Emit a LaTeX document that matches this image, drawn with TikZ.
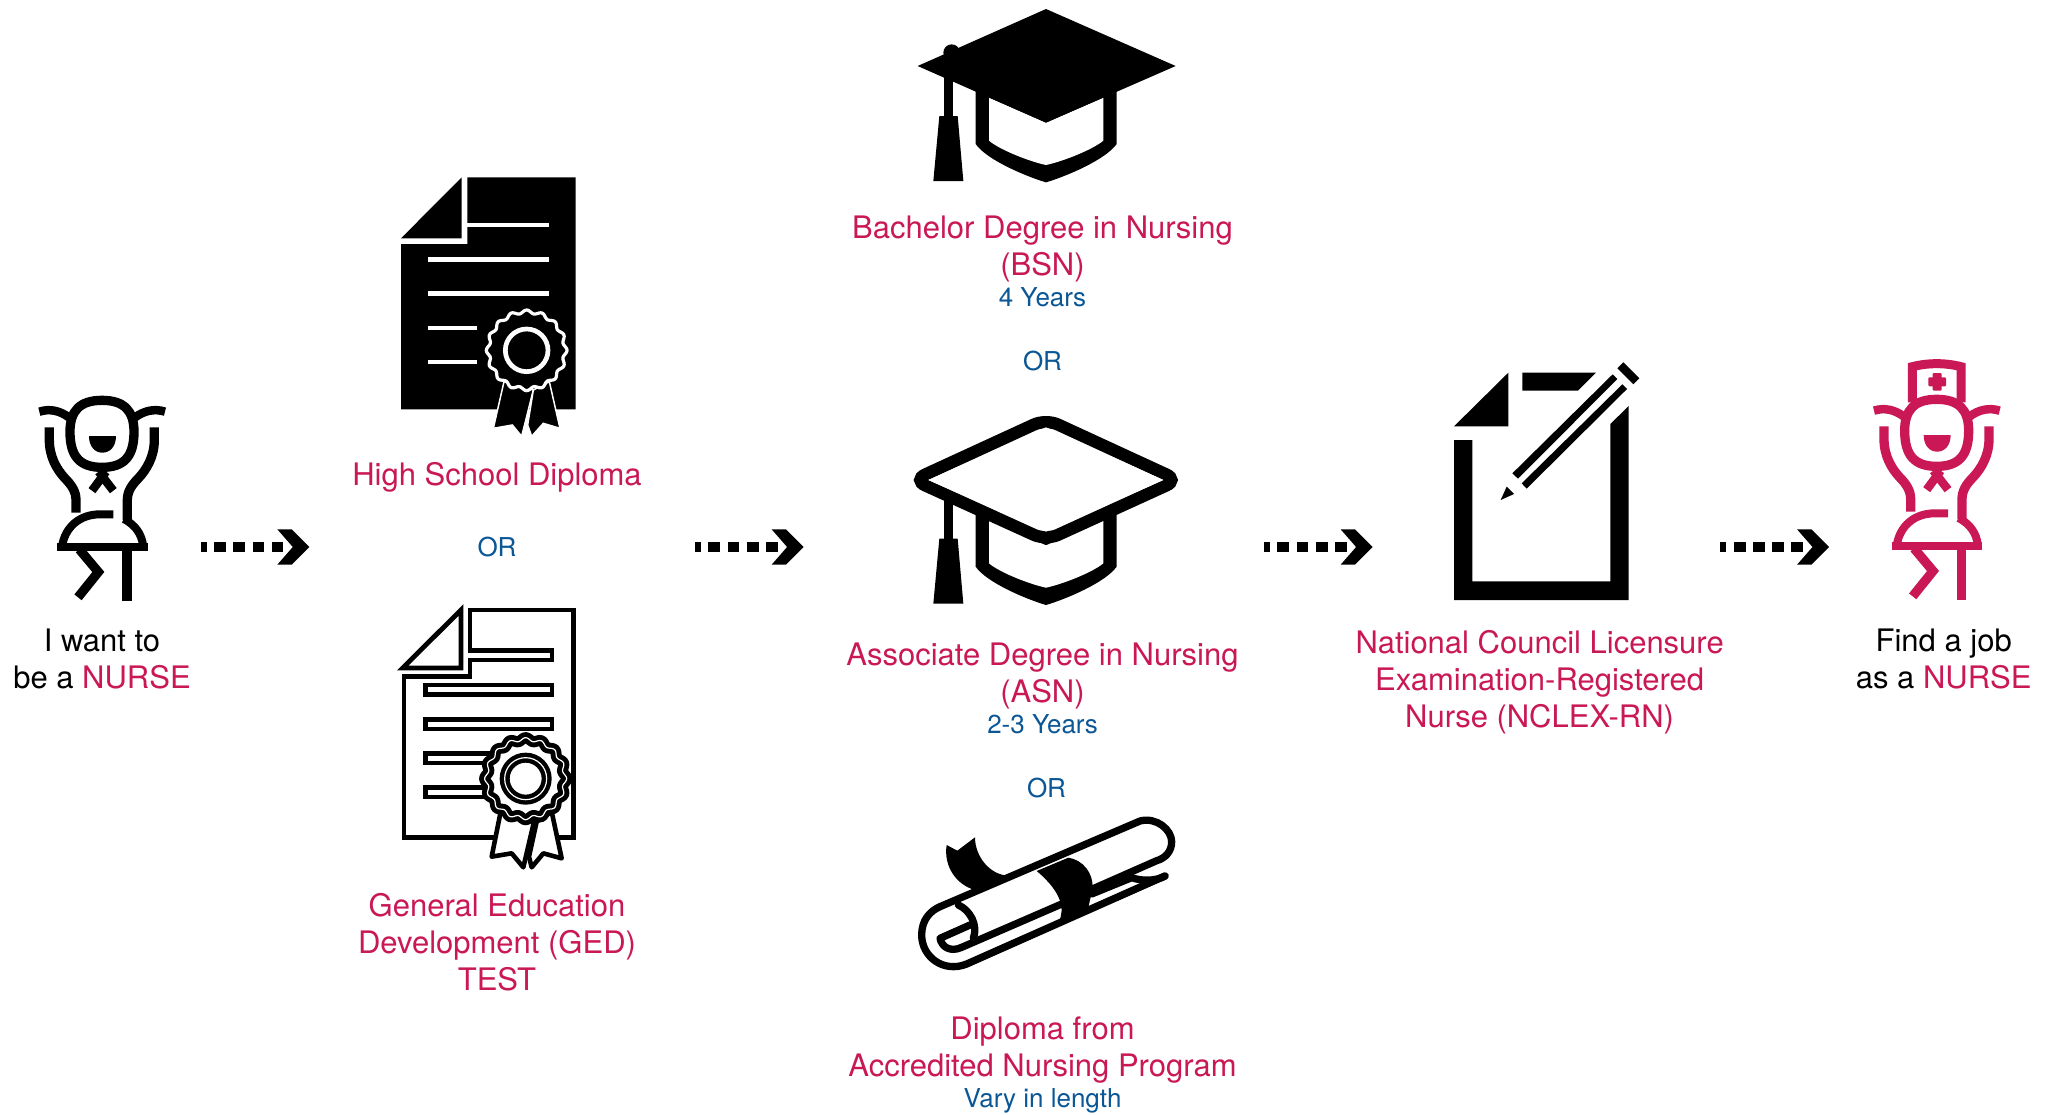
\documentclass[tikz,border=0pt]{standalone}
\usepackage{fontspec}
\setmainfont{TeX Gyre Heros}
\usetikzlibrary{arrows.meta}
\definecolor{nursered}{HTML}{C91855}
\definecolor{noteblue}{HTML}{0B5796}
\pgfdeclarearrow{
  name=ChevHead,
  setup code={\pgfarrowssettipend{32pt}\pgfarrowssetbackend{0pt}\pgfarrowssetlineend{6.7pt}},
  drawing code={
    \pgfpathmoveto{\pgfqpoint{0pt}{17.7pt}}
    \pgfpathlineto{\pgfqpoint{14.4pt}{17.7pt}}
    \pgfpathlineto{\pgfqpoint{32pt}{0pt}}
    \pgfpathlineto{\pgfqpoint{14.4pt}{-17.7pt}}
    \pgfpathlineto{\pgfqpoint{0pt}{-17.7pt}}
    \pgfpathlineto{\pgfqpoint{15.5pt}{0pt}}
    \pgfpathclose
    \pgfusepathqfill
  }
}
\tikzset{
  x=1pt,y=-1pt,
  bigred/.style={font=\fontsize{31}{37}\selectfont,text=nursered,align=center,anchor=base,inner sep=0pt},
  bigblack/.style={bigred,text=black},
  small/.style={font=\fontsize{26}{31}\selectfont,text=noteblue,align=center,anchor=base,inner sep=0pt},
  flow/.style={line width=10pt,dash pattern=on 11.7pt off 7.5pt,dash phase=5.8pt,-{ChevHead}},
  fig/.style={line width=9.3pt,line cap=butt,line join=miter},
  scrollline/.style={line width=7.3pt,line cap=round,line join=round},
}
\newcommand{\personfig}[1]{%
  \begin{scope}[draw=#1,fill=#1,fig]
    \draw (306,91) .. controls (372,91) and (402,122) .. (402,185) .. controls (402,260) and (372,292) .. (306,292) .. controls (240,292) and (210,260) .. (210,185) .. controls (210,122) and (240,91) .. (306,91) -- cycle;
    \draw[line width=8.5pt] (118,125) .. controls (150,115) and (180,122) .. (208,143);
    \draw[line width=8.5pt] (495,125) .. controls (463,115) and (432,122) .. (404,143);
    \fill (267,198) -- (348,198) .. controls (348,230) and (330,248) .. (307,248) .. controls (285,248) and (267,230) .. (267,198) -- cycle;
    \draw (148,172) -- (148,210) .. controls (148,260) and (170,298) .. (195,325) .. controls (215,345) and (228,365) .. (228,390) -- (228,428);
    \draw (463,172) -- (463,210) .. controls (463,260) and (440,298) .. (415,325) .. controls (395,345) and (382,365) .. (382,390) -- (382,450);
    \draw[line width=8.5pt] (318,305) -- (276,362);
    \draw[line width=8.5pt] (296,305) -- (340,362);
    \draw[line width=8pt] (340,433) -- (300,433) .. controls (240,433) and (195,470) .. (186,530);
    \draw[line width=8pt] (372,447) .. controls (405,465) and (425,490) .. (430,530);
    \draw[line width=8pt] (172,530) -- (443,530);
    \draw (238,538) -- (295,606) -- (234,682);
    \draw (381,538) -- (381,692);
  \end{scope}}
\newcommand{\capband}{%
  \fill (227,260) -- (227,432) .. controls (260,480) and (380,530) .. (438,547) .. controls (496,530) and (616,480) .. (650,432) -- (650,260) -- cycle;
  \fill[white] (267,293) -- (267,422) .. controls (300,450) and (390,485) .. (438,495) .. controls (486,485) and (576,450) .. (610,422) -- (610,293) -- (438,368) -- cycle;
  \fill (118,348) -- (173,348) -- (190,543) -- (100,543) -- cycle;}
\newcommand{\sealplot}[4]{% cx cy radius amplitude
  plot[domain=0:360,samples=193,smooth] ({#1+(#3+#4*cos(16*\x))*cos(\x)},{#2+(#3+#4*cos(16*\x))*sin(\x)}) -- cycle}
\begin{document}
\begin{tikzpicture}
\useasboundingbox (0,0) rectangle (2051,1114);
\fill[white] (0,0) rectangle (2051,1114);

% girl
\begin{scope}[shift={(0,370)},scale=1/3]
  \personfig{black}
\end{scope}

% nurse
\begin{scope}[shift={(1834.67,369)},scale=1/3]
  \personfig{nursered}
  \draw[nursered,line width=9pt] (233,100) -- (233,-7) .. controls (280,-19) and (332,-19) .. (379,-7) -- (379,100);
  \fill[nursered,rounded corners=1pt] (294,12) rectangle (321,65);
  \fill[nursered,rounded corners=1pt] (281,25) rectangle (334,52);
\end{scope}

% solid diploma
\begin{scope}[shift={(380,160)},scale=1/3]
  \fill (262,52) -- (587,52) -- (587,748) -- (63,748) -- (63,252) -- (262,252) -- cycle;
  \fill (245,52) -- (245,235) -- (63,235) -- cycle;
  \foreach \a/\b/\c in {262/507/195,143/507/298,143/507/401,143/292/504,143/292/606}
    \draw[white,line width=4.4pt] (\a,\c) -- (\b,\c);
  \draw[white,line width=1.5pt,fill=black] (372,665) -- (340,805) -- (397,795) -- (425,829) -- (460,690) -- cycle;
  \draw[white,line width=1.5pt,fill=black] (460,690) -- (443,795) -- (455,829) -- (490,790) -- (540,805) -- (508,665) -- cycle;
  \draw[white,line width=3.2pt,fill=black] \sealplot{440}{571}{116}{5};
  \draw[white,line width=4.7pt] (440,571) circle[radius=64];
\end{scope}

% outlined diploma
\begin{scope}[shift={(380,590)},scale=1/3]
  \draw[line width=4.8pt,miter limit=10] (270,60) -- (580,60) -- (580,742) -- (72,742) -- (72,260) -- (270,260) -- (270,210) -- (516,210) -- (516,181) -- (270,181) -- cycle;
  \draw[line width=4.8pt,miter limit=10] (243,60) -- (243,234) -- (68,234) -- cycle;
  \draw[line width=4.8pt] (136,285) rectangle (516,314);
  \draw[line width=4.8pt] (136,388) rectangle (516,417);
  \draw[line width=4.8pt] (136,490) rectangle (330,519);
  \draw[line width=4.8pt] (136,592) rectangle (330,621);
  \draw[line width=4.6pt,fill=white,line join=round] (362,665) -- (335,800) -- (395,790) -- (430,832) -- (462,695) -- cycle;
  \draw[line width=4.6pt,fill=white,line join=round] (470,695) -- (447,800) -- (455,832) -- (490,790) -- (545,805) -- (515,665) -- cycle;
  \draw[line width=11pt,fill=white] \sealplot{437}{566}{118}{5};
  \draw[white,line width=1.2pt] \sealplot{437}{566}{118}{5};
  \draw[line width=10pt] (437,566) circle[radius=63];
  \draw[white,line width=1.2pt] (437,566) circle[radius=63];
\end{scope}

% solid cap
\begin{scope}[shift={(900,0)},scale=1/3]
  \capband
  \fill (438,27) -- (827,198) -- (438,368) -- (53,198) -- cycle;
  \fill (133,198) rectangle (158,350);
  \fill (155,158) circle[radius=25];
\end{scope}

% outlined cap
\begin{scope}[shift={(900,422.67)},scale=1/3]
  \capband
\end{scope}
\begin{scope}[shift={(900,410)},scale=1/3]
  \fill (133,265) rectangle (158,390);
  \draw[line width=12.3pt,rounded corners=13pt,fill=white] (438,27) -- (835,210) -- (438,391) -- (40,210) -- cycle;
  \fill[white] (438,52) -- (790,210) -- (438,365) -- (85,210) -- cycle;
\end{scope}

% scroll
\begin{scope}[shift={(900,810)},scale=1/3]
  \fill (140,105) -- (172,122) -- (225,82) .. controls (225,140) and (270,195) .. (325,197) -- (225,240) .. controls (170,225) and (130,170) .. (140,105) -- cycle;
  \draw[scrollline,fill=white] (795,198) -- (200,462) .. controls (130,490) and (65,440) .. (65,375) .. controls (65,330) and (90,303) .. (120,290) -- (720,33) .. controls (770,20) and (815,60) .. (815,95) .. controls (815,125) and (795,145) .. (770,152) -- (575,238);
  \draw[scrollline] (175,285) .. controls (210,300) and (235,345) .. (220,385);
  \draw[scrollline] (210,345) -- (120,385) .. controls (125,410) and (150,428) .. (185,412) -- (485,282);
  \draw[scrollline] (575,252) -- (695,203) .. controls (730,215) and (770,212) .. (795,198);
  \fill (505,143) .. controls (550,150) and (580,190) .. (578,235) -- (565,292) -- (478,332) .. controls (492,300) and (490,250) .. (410,183) -- cycle;
\end{scope}

% pencil document
\begin{scope}[shift={(1440,350)},scale=1/3]
  \fill (205,68) -- (205,229) -- (42,229) -- cycle;
  \fill (247,68) -- (468,68) -- (414,122) -- (247,122) -- cycle;
  \fill (42,270) -- (97,270) -- (97,694) -- (511,694) -- (511,222) -- (566,168) -- (566,750) -- (42,750) -- cycle;
  \fill (550,37) -- (598,85) -- (580,103) -- (532,55) -- cycle;
  \fill (518,73) -- (532,87) -- (234,386) -- (217,370) -- cycle;
  \fill (547,103) -- (561,117) -- (260,416) -- (245,400) -- cycle;
  \fill (200,410) -- (222,432) -- (182,450) -- cycle;
\end{scope}

% connectors
\coordinate (a1s) at (200.7,547); \coordinate (a1e) at (309.3,547);
\coordinate (a2s) at (695,547); \coordinate (a2e) at (803.6,547);
\coordinate (a3s) at (1264,547); \coordinate (a3e) at (1372.6,547);
\coordinate (a4s) at (1720.4,547); \coordinate (a4e) at (1829,547);
\draw[flow] (a1s) -- (a1e);
\draw[flow] (a2s) -- (a2e);
\draw[flow] (a3s) -- (a3e);
\draw[flow] (a4s) -- (a4e);

% labels
\node[bigblack] (want) at (102,688) {I want to\\be a \textcolor{nursered}{NURSE}};
\node[bigred] (hs) at (497,485.6) {High School Diploma};
\node[small] (or1) at (497,556.4) {OR};
\node[bigred] (ged) at (497,990) {General Education\\Development (GED)\\TEST};
\node[bigred] (bsn) at (1042.5,275.6) {Bachelor Degree in Nursing\\(BSN)};
\node[small] (y4) at (1042.5,306.4) {4 Years};
\node[small] (or2) at (1042.5,370.7) {OR};
\node[bigred] (asn) at (1042.5,702.4) {Associate Degree in Nursing\\(ASN)};
\node[small] (y23) at (1042.5,733) {2-3 Years};
\node[small] (or3) at (1046.5,797.4) {OR};
\node[bigred] (dip) at (1042.5,1076.9) {Diploma from\\Accredited Nursing Program};
\node[small] (vary) at (1042.5,1107.7) {Vary in length};
\node[bigred] (nclex) at (1539.6,727.4) {National Council Licensure\\Examination-Registered\\Nurse (NCLEX-RN)};
\node[bigblack] (job) at (1943.7,688.3) {Find a job\\as a \textcolor{nursered}{NURSE}};
\end{tikzpicture}
\end{document}
